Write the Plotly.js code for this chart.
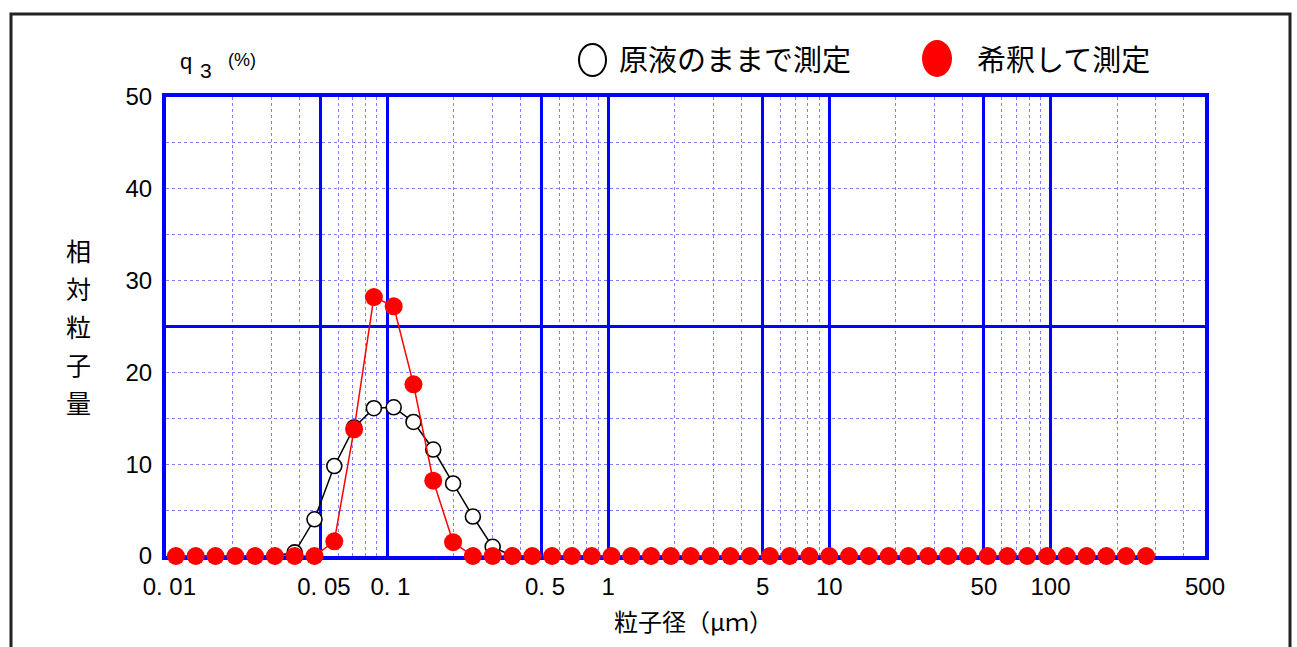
<!DOCTYPE html>
<html>
<head>
<meta charset="utf-8">
<script src="https://cdn.plot.ly/plotly-3.0.1.min.js"></script>
<style>html,body{margin:0;padding:0;background:#fff;}#chart{width:1297px;height:647px;}</style>
</head>
<body>
<div id="chart"></div>
<script>
// particle size channels (µm)
const particleSize = [0.01109,0.01362,0.01674,0.02058,0.02529,0.03108,0.03820,0.04694,0.05769,0.07090,
  0.08714,0.1071,0.1316,0.1617,0.1988,0.2443,0.3002,0.3690,0.4535,0.5573,
  0.6849,0.8417,1.034,1.271,1.562,1.920,2.360,2.900,3.564,4.380,
  5.383,6.616,8.130,9.992,12.28,15.09,18.55,22.79,28.01,34.43,
  42.31,52.00,63.90,78.54,96.52,118.6,145.8,179.1,220.2,270.6];
// q3 (%) measured as-is
const qOriginal = [0,0,0,0,0,0,0.4,4.0,9.8,14.0,
  16.1,16.2,14.6,11.6,7.9,4.3,1.0,0,0,0,
  0,0,0,0,0,0,0,0,0,0,
  0,0,0,0,0,0,0,0,0,0,
  0,0,0,0,0,0,0,0,0,0];
// q3 (%) measured after dilution
const qDiluted = [0,0,0,0,0,0,0,0,1.6,13.8,
  28.2,27.2,18.7,8.2,1.5,0,0,0,0,0,
  0,0,0,0,0,0,0,0,0,0,
  0,0,0,0,0,0,0,0,0,0,
  0,0,0,0,0,0,0,0,0,0];
const seriesNames = ['原液のままで測定', '希釈して測定'];
const xTickVals = [0.01,0.05,0.1,0.5,1,5,10,50,100,500];
const xTickText = [' 0. 01',' 0. 05',' 0. 1',' 0. 5','1','5','10','50','100','500'];
const xMinorVals = [0.02,0.03,0.04,0.06,0.07,0.08,0.09,0.2,0.3,0.4,0.6,0.7,0.8,0.9,
  2,3,4,6,7,8,9,20,30,40,60,70,80,90,200,300,400];
const yTickVals = [0,10,20,30,40,50];
const yMinorVals = [5,10,15,20,30,35,40,45];
const yMajorGrid = [25];
const xTitle = '粒子径（μｍ）';
const yTitle = '相対粒子量';

const L = 166, R = 1205, T = 97, B = 556;
const px = p => (p - L) / (R - L);
const py = p => (B - p) / (B - T);
const NUM = 'Liberation Sans, Arial, sans-serif';
const JP = 'Noto Sans CJK JP, sans-serif';

const traces = [
  {x: particleSize, y: qOriginal, name: seriesNames[0], type: 'scatter', mode: 'lines+markers',
   yaxis: 'y', cliponaxis: false,
   line: {color: '#000000', width: 1.5},
   marker: {symbol: 'circle', size: 15, color: '#ffffff', line: {color: '#000000', width: 1.6}}},
  {x: particleSize, y: qDiluted, name: seriesNames[1], type: 'scatter', mode: 'lines+markers',
   yaxis: 'y2', cliponaxis: false,
   line: {color: '#ff0000', width: 1.5},
   marker: {symbol: 'circle', size: 18, color: '#ff0000'}}
];

const annotations = [
  {xref:'paper', yref:'paper', x: px(617), y: py(58), xanchor:'left', yanchor:'middle', showarrow:false,
   text: seriesNames[0], font:{family: JP, size: 29, color:'#000'}},
  {xref:'paper', yref:'paper', x: px(975), y: py(58), xanchor:'left', yanchor:'middle', showarrow:false,
   text: seriesNames[1], font:{family: JP, size: 29, color:'#000'}},
  {xref:'paper', yref:'paper', x: px(186), y: py(62), xanchor:'center', yanchor:'middle', showarrow:false,
   text: 'q', font:{family: NUM, size: 22, color:'#000'}},
  {xref:'paper', yref:'paper', x: px(206), y: py(70), xanchor:'center', yanchor:'middle', showarrow:false,
   text: '3', font:{family: NUM, size: 21, color:'#000'}},
  {xref:'paper', yref:'paper', x: px(242), y: py(60), xanchor:'center', yanchor:'middle', showarrow:false,
   text: '(%)', font:{family: NUM, size: 18, color:'#000'}},
  {xref:'paper', yref:'paper', x: px(693), y: py(620), xanchor:'center', yanchor:'middle', showarrow:false,
   text: xTitle, font:{family: JP, size: 24, color:'#000'}}
];
Array.from(yTitle).forEach((ch, i) => {
  annotations.push({xref:'paper', yref:'paper', x: px(78), y: py(250 + 38 * i), xanchor:'center', yanchor:'middle',
    showarrow:false, text: ch, font:{family: JP, size: 25, color:'#000'}});
});

const shapes = [
  {type:'rect', xref:'paper', yref:'paper', x0: px(11), x1: px(1290), y0: py(14), y1: py(700),
   line:{color:'#222222', width:3}, fillcolor:'rgba(0,0,0,0)'},
  {type:'circle', xref:'paper', yref:'paper', x0: px(579), x1: px(606), y0: py(44), y1: py(76),
   line:{color:'#000000', width:2}, fillcolor:'#ffffff'},
  {type:'circle', xref:'paper', yref:'paper', x0: px(922), x1: px(952), y0: py(40), y1: py(77),
   line:{width:0}, fillcolor:'#ff0000'}
];

const layout = {
  width: 1297, height: 647,
  margin: {l: L, r: 1297 - R, t: T, b: 647 - B, pad: 0},
  paper_bgcolor: '#ffffff', plot_bgcolor: '#ffffff',
  showlegend: false,
  xaxis: {
    type: 'log', range: [Math.log10(0.01), Math.log10(500)], fixedrange: true,
    tickmode: 'array', tickvals: xTickVals, ticktext: xTickText, ticks: '',
    tickfont: {family: NUM, size: 24, color: '#000'}, ticklabelstandoff: 6,
    showgrid: true, gridcolor: '#0000ff', gridwidth: 3,
    minor: {tickmode: 'array', tickvals: xMinorVals, showgrid: true, gridcolor: '#8080ff', gridwidth: 1, griddash: 'dot', ticks: ''},
    showline: true, mirror: true, linecolor: '#0000ff', linewidth: 4,
    zeroline: false, layer: 'below traces'
  },
  yaxis: {
    range: [0, 50], fixedrange: true,
    tickmode: 'array', tickvals: yTickVals, ticks: '',
    tickfont: {family: NUM, size: 24, color: '#000'}, ticklabelstandoff: 5,
    showgrid: false,
    minor: {tickmode: 'array', tickvals: yMinorVals, showgrid: true, gridcolor: '#8080ff', gridwidth: 1, griddash: 'dot', ticks: ''},
    showline: true, mirror: true, linecolor: '#0000ff', linewidth: 4,
    zeroline: false, layer: 'below traces'
  },
  yaxis2: {
    overlaying: 'y', side: 'left', range: [0, 50], fixedrange: true,
    tickmode: 'array', tickvals: yMajorGrid, showticklabels: false, ticks: '',
    showgrid: true, gridcolor: '#0000ff', gridwidth: 3,
    showline: false, zeroline: false, layer: 'below traces'
  },
  annotations: annotations,
  shapes: shapes
};

Plotly.newPlot('chart', traces, layout, {displayModeBar: false, staticPlot: true});
</script>
</body>
</html>
